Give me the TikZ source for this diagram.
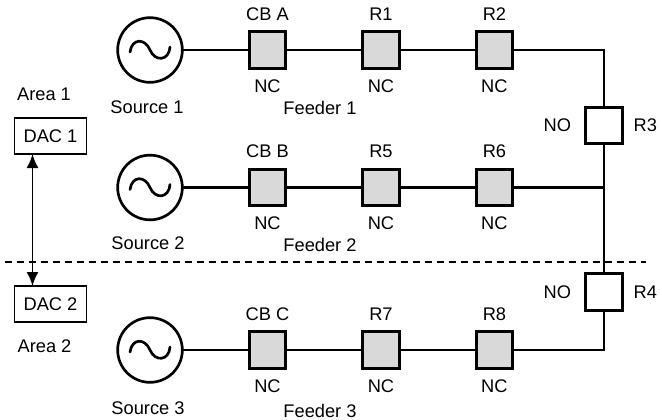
\documentclass[tikz,border=0pt]{standalone}
\usepackage{fontspec}
\setmainfont{Liberation Sans}
\usetikzlibrary{calc,arrows.meta,positioning}

\tikzset{
    source/.style={circle,draw,line width=2pt,fill=white,minimum size=48.5pt,inner sep=0pt,outer sep=0pt},
    closedsw/.style={rectangle,draw,line width=2.3pt,fill=black!15,minimum size=27.5pt,inner sep=0pt,outer sep=0pt},
    opensw/.style={rectangle,draw,line width=2.3pt,fill=white,minimum size=27.5pt,inner sep=0pt,outer sep=0pt},
    dac/.style={rectangle,draw,line width=1pt,minimum width=54pt,minimum height=27pt,inner sep=0pt,outer sep=0pt},
    tag/.style={inner sep=0pt,outer sep=0pt},
    feeder/.style={line width=2.1pt},
    wave/.style={line width=2pt,line cap=round},
}

\begin{document}
\begin{tikzpicture}[x=.75pt,y=-.75pt,node distance=57.6pt,font=\fontsize{13.7}{16}\selectfont]
    \useasboundingbox (0,0) rectangle (662,419);
    \fill[white] (0,0) rectangle (662,419);

    \coordinate (top) at (604,50);
    \coordinate (tie) at (604,187.5);
    \coordinate (bottom) at (604,350);
    \coordinate (cutl) at (5,262);
    \coordinate (cutr) at (646,262);

    % feeder 1
    \node (src1) [source] at (150,50) {};
    \node (cba) [closedsw] at (267.5,50) {};
    \node (r1) [closedsw,right=of cba] {};
    \node (r2) [closedsw,right=of r1] {};
    % feeder 2
    \node (src2) [source] at (150,187.5) {};
    \node (cbb) [closedsw] at (267.5,187.5) {};
    \node (r5) [closedsw,right=of cbb] {};
    \node (r6) [closedsw,right=of r5] {};
    % feeder 3
    \node (src3) [source] at (150,350) {};
    \node (cbc) [closedsw] at (267.5,350) {};
    \node (r7) [closedsw,right=of cbc] {};
    \node (r8) [closedsw,right=of r7] {};
    % tie switches
    \node (r3) [opensw] at (604,125.5) {};
    \node (r4) [opensw] at (604,292) {};
    % controllers
    \node (dac1) [dac] at (50.5,136) {DAC 1};
    \node (dac2) [dac] at (50.5,304) {DAC 2};

    \draw[feeder] (src1) -- (cba);
    \draw[feeder] (cba) -- (r1);
    \draw[feeder] (r1) -- (r2);
    \draw[feeder] (r2) -- (top) -- (r3);
    \draw[feeder] (src2) -- (cbb);
    \draw[feeder] (cbb) -- (r5);
    \draw[feeder] (r5) -- (r6);
    \draw[feeder] (r6) -- (tie);
    \draw[feeder] (r3) -- (r4);
    \draw[feeder] (src3) -- (cbc);
    \draw[feeder] (cbc) -- (r7);
    \draw[feeder] (r7) -- (r8);
    \draw[feeder] (r8) -- (bottom) -- (r4);

    \foreach \s in {src1,src2,src3}
        \draw[wave] ($(\s)+(-20,2)$) .. controls ($(\s)+(-18,-12)$) and ($(\s)+(-5,-12)$) .. (\s.center)
            .. controls ($(\s)+(5,12)$) and ($(\s)+(19,11)$) .. ($(\s)+(20,-3)$);

    \draw[line width=.9pt,dash pattern=on 5.6pt off 3.4pt] (cutl) -- (cutr);
    \draw[line width=1.3pt,{Latex[length=10.5pt,width=9pt]}-{Latex[length=10.5pt,width=9pt]}]
        ([xshift=-13.5pt]dac1.south) -- ([xshift=-13.5pt]dac2.north);

    % labels
    \node (lsrc1) [tag] at (147,107) {Source 1};
    \node (lsrc2) [tag] at (148,243.5) {Source 2};
    \node (lsrc3) [tag] at (148,408) {Source 3};
    \node (lfd1) [tag] at (320,108) {Feeder 1};
    \node (lfd2) [tag] at (320,245) {Feeder 2};
    \node (lfd3) [tag] at (320,410.5) {Feeder 3};
    \node (larea1) [tag] at (44,94) {Area 1};
    \node (larea2) [tag] at (44.5,346) {Area 2};

    \begin{scope}[node distance=8.5pt]
        \node (lcba) [tag,above=of cba] {CB A};
        \node (lr1) [tag,above=of r1] {R1};
        \node (lr2) [tag,above=of r2] {R2};
        \node (lcbb) [tag,above=of cbb] {CB B};
        \node (lr5) [tag,above=of r5] {R5};
        \node (lr6) [tag,above=of r6] {R6};
        \node (lcbc) [tag,above=of cbc] {CB C};
        \node (lr7) [tag,above=of r7] {R7};
        \node (lr8) [tag,above=of r8] {R8};
        \node (ncab) [tag,below=of cba] {NC};
        \node (nc1) [tag,below=of r1] {NC};
        \node (nc2) [tag,below=of r2] {NC};
        \node (ncbb) [tag,below=of cbb] {NC};
        \node (nc5) [tag,below=of r5] {NC};
        \node (nc6) [tag,below=of r6] {NC};
        \node (nccc) [tag,below=of cbc] {NC};
        \node (nc7) [tag,below=of r7] {NC};
        \node (nc8) [tag,below=of r8] {NC};
        \node (lr3) [tag,right=of r3] {R3};
        \node (lr4) [tag,right=of r4] {R4};
    \end{scope}
    \begin{scope}[node distance=11pt]
        \node (no3) [tag,left=of r3] {NO};
        \node (no4) [tag,left=of r4] {NO};
    \end{scope}
\end{tikzpicture}
\end{document}
